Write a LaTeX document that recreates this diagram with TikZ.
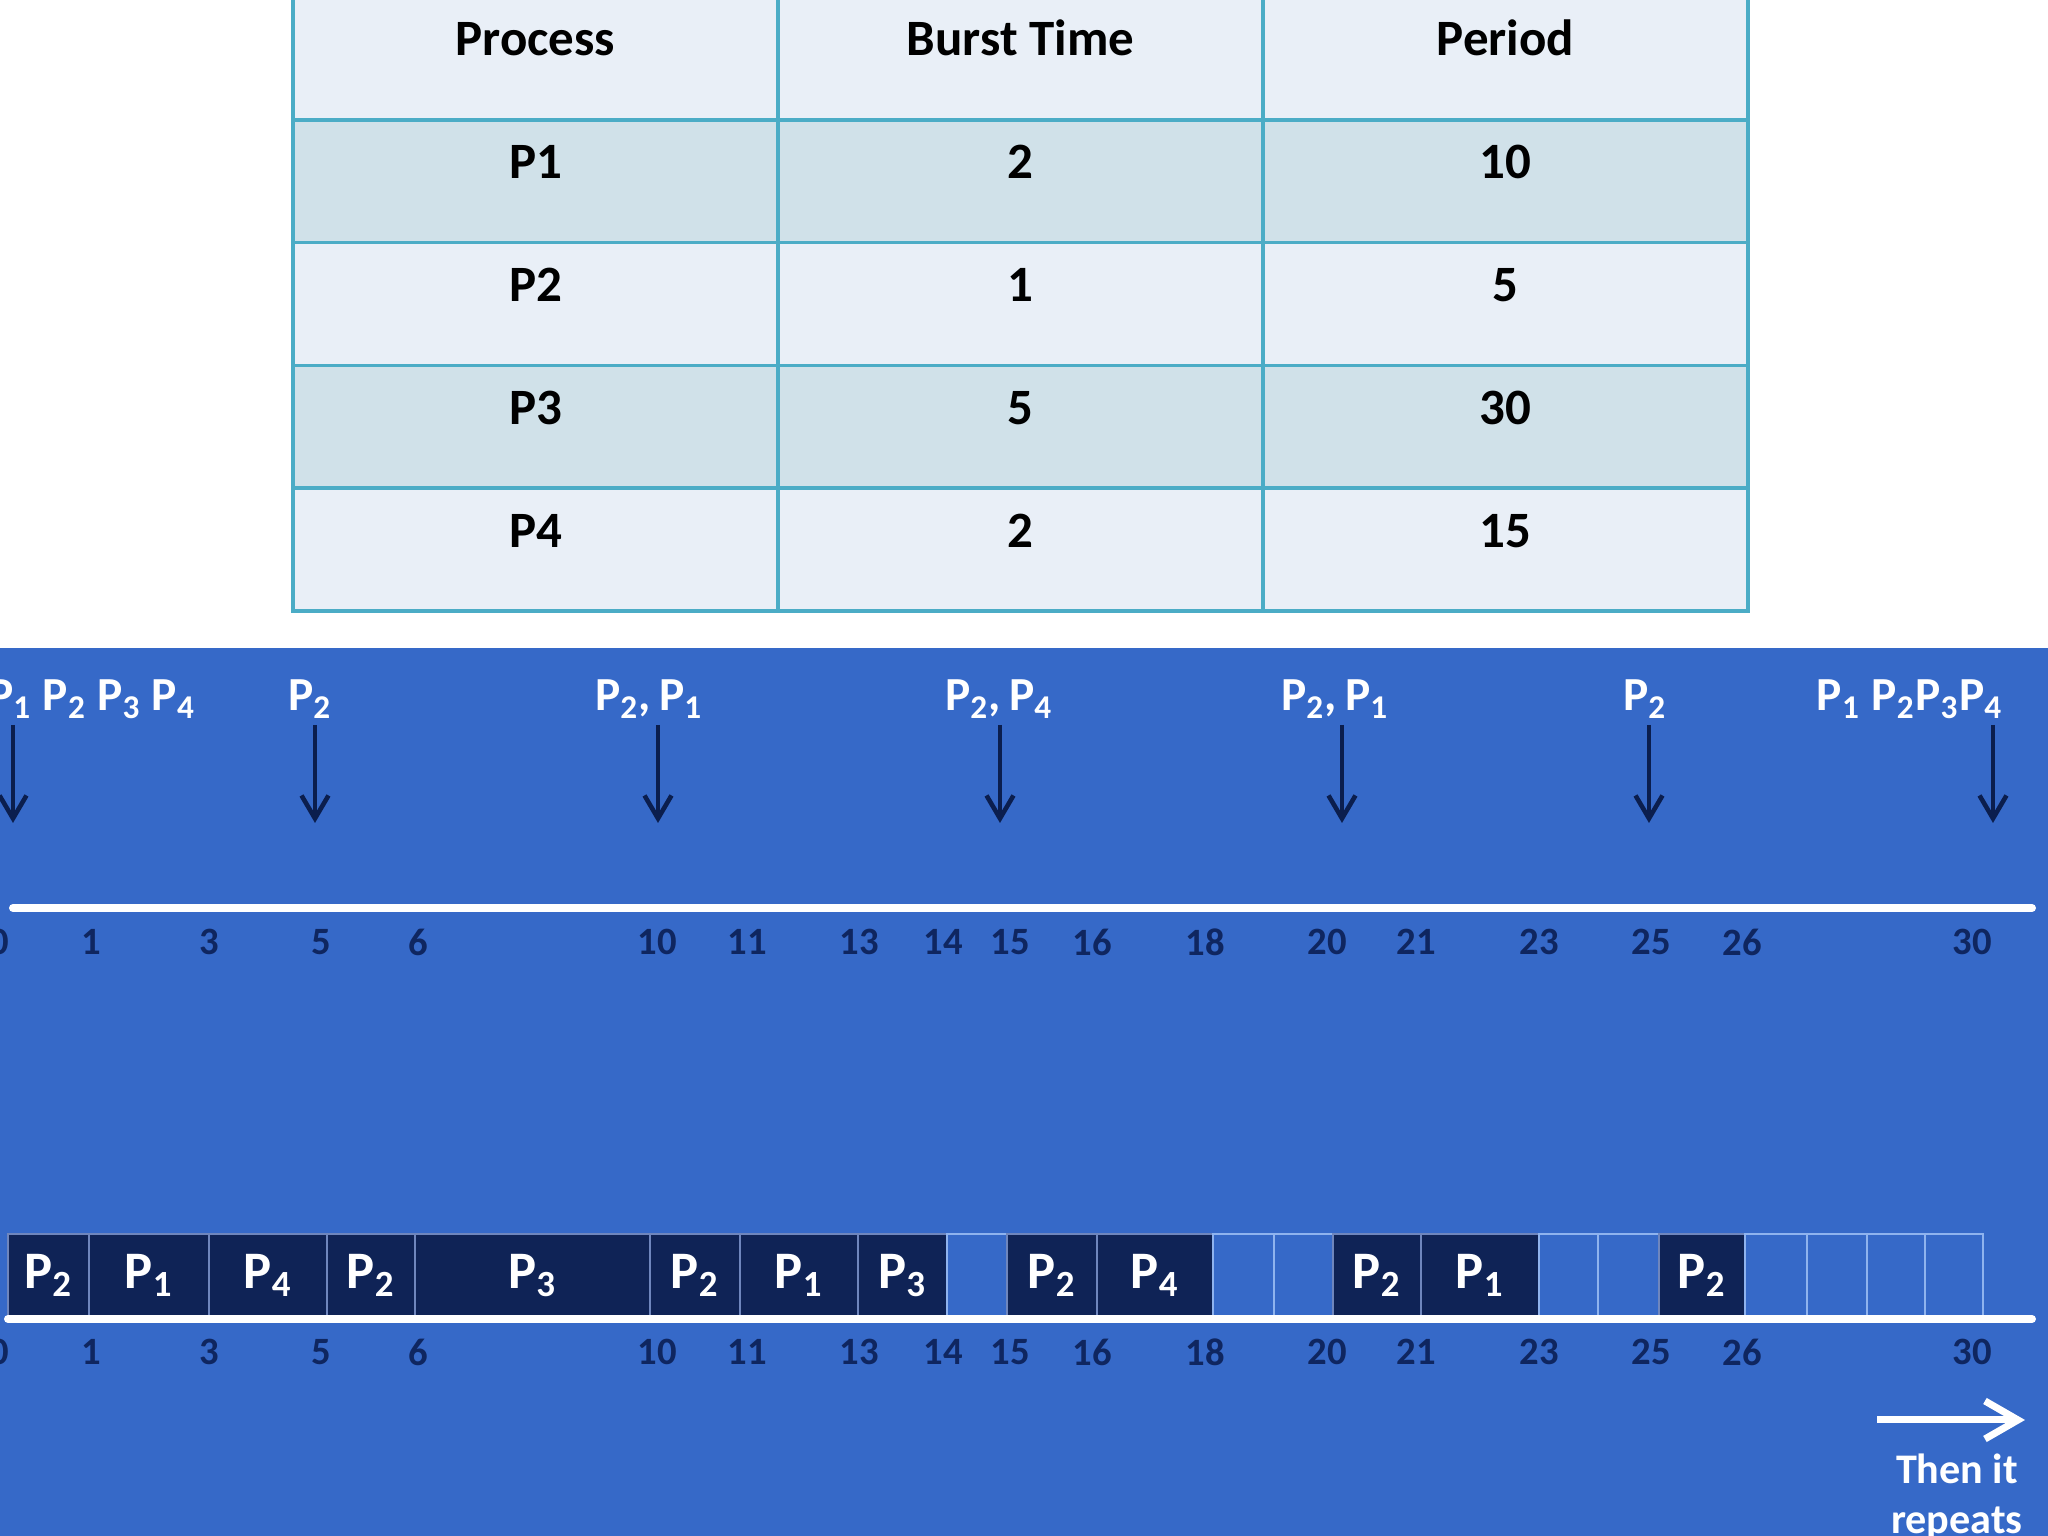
\documentclass[tikz,border=0pt]{standalone}
\usepackage{fontspec}
\setmainfont{Carlito}
\usetikzlibrary{positioning,arrows.meta}

\definecolor{cellline}{HTML}{4BACC6}
\definecolor{celllight}{HTML}{E9EFF7}
\definecolor{celldark}{HTML}{D0E1E9}
\definecolor{panel}{HTML}{3669C8}
\definecolor{navy}{HTML}{0F2356}
\definecolor{ticknavy}{HTML}{0F2660}
\definecolor{arrownavy}{HTML}{0B1E4E}
\definecolor{idleline}{HTML}{8FB3EE}
\definecolor{runline}{HTML}{6F86BD}

\begin{document}
\begin{tikzpicture}

    % Styles
    \tikzstyle{cell} = [rectangle, inner sep=0pt, outer sep=0pt, minimum width=4.85cm, text height=0.59cm, text depth=0.638cm, text centered, draw=cellline, line width=1pt, font=\fontsize{14.5}{17}\selectfont\bfseries]
    \tikzstyle{head} = [cell, fill=celllight]
    \tikzstyle{rowa} = [cell, fill=celldark]
    \tikzstyle{rowb} = [cell, fill=celllight]
    \tikzstyle{run} = [rectangle, inner sep=0pt, outer sep=0pt, minimum height=0.83cm, text centered, draw=runline, line width=0.6pt, fill=navy, text=white, font=\fontsize{15}{18}\selectfont\bfseries]
    \tikzstyle{idle} = [run, draw=idleline, line width=0.8pt, fill=none]
    \tikzstyle{tick} = [text=ticknavy, font=\fontsize{11}{13}\selectfont\bfseries]
    \tikzstyle{arrival} = [text=white, font=\fontsize{13.5}{16}\selectfont\bfseries]
    \tikzstyle{timeline} = [white, line width=0.08cm, line cap=round]
    \tikzstyle{arrow} = [arrownavy, line width=1.3pt, -{Straight Barb[length=2.3mm, width=2.7mm]}]
    \tikzstyle{looparrow} = [white, line width=2pt, -{Straight Barb[length=3.3mm, width=3.8mm]}]

    \useasboundingbox (0,0) rectangle (20.48,15.36);
    \clip (0,0) rectangle (20.48,15.36);

    % Tableau
    \node (proc) [head] at (5.355,14.776) {Process};
    \node (burst) [head, right=0pt of proc] {Burst Time};
    \node (period) [head, right=0pt of burst] {Period};
    \node (p1) [rowa, below=0pt of proc] {P1};
    \node (p1-burst) [rowa, right=0pt of p1] {2};
    \node (p1-period) [rowa, right=0pt of p1-burst] {10};
    \node (p2) [rowb, below=0pt of p1] {P2};
    \node (p2-burst) [rowb, right=0pt of p2] {1};
    \node (p2-period) [rowb, right=0pt of p2-burst] {5};
    \node (p3) [rowa, below=0pt of p2] {P3};
    \node (p3-burst) [rowa, right=0pt of p3] {5};
    \node (p3-period) [rowa, right=0pt of p3-burst] {30};
    \node (p4) [rowb, below=0pt of p3] {P4};
    \node (p4-burst) [rowb, right=0pt of p4] {2};
    \node (p4-period) [rowb, right=0pt of p4-burst] {15};

    % Fond
    \fill [panel] (0,0) rectangle (20.48,8.88);

    % Arrivees
    \node (l1) [arrival] at (0.92,8.37) {P\textsubscript{1} P\textsubscript{2} P\textsubscript{3} P\textsubscript{4}};
    \node (l2) [arrival] at (3.10,8.37) {P\textsubscript{2}};
    \node (l3) [arrival] at (6.49,8.37) {P\textsubscript{2},\,P\textsubscript{1}};
    \node (l4) [arrival] at (9.99,8.37) {P\textsubscript{2},\,P\textsubscript{4}};
    \node (l5) [arrival] at (13.35,8.37) {P\textsubscript{2},\,P\textsubscript{1}};
    \node (l6) [arrival] at (16.45,8.37) {P\textsubscript{2}};
    \node (l7) [arrival] at (19.10,8.37) {P\textsubscript{1} P\textsubscript{2}P\textsubscript{3}P\textsubscript{4}};

    \coordinate (s1) at (0.13,8.11);  \coordinate (e1) at (0.13,7.13);
    \coordinate (s2) at (3.15,8.11);  \coordinate (e2) at (3.15,7.13);
    \coordinate (s3) at (6.58,8.11);  \coordinate (e3) at (6.58,7.13);
    \coordinate (s4) at (10.00,8.11); \coordinate (e4) at (10.00,7.13);
    \coordinate (s5) at (13.42,8.11); \coordinate (e5) at (13.42,7.13);
    \coordinate (s6) at (16.49,8.11); \coordinate (e6) at (16.49,7.13);
    \coordinate (s7) at (19.93,8.11); \coordinate (e7) at (19.93,7.13);

    % Frises
    \coordinate (top-start) at (0.13,6.28);
    \coordinate (top-end) at (20.32,6.28);
    \draw [timeline] (top-start) -- (top-end);

    \node (b1) [run, minimum width=0.81cm] at (0.485,2.605) {P\textsubscript{2}};
    \node (b2) [run, minimum width=1.20cm, right=0pt of b1] {P\textsubscript{1}};
    \node (b3) [run, minimum width=1.18cm, right=0pt of b2] {P\textsubscript{4}};
    \node (b4) [run, minimum width=0.88cm, right=0pt of b3] {P\textsubscript{2}};
    \node (b5) [run, minimum width=2.35cm, right=0pt of b4] {P\textsubscript{3}};
    \node (b6) [run, minimum width=0.90cm, right=0pt of b5] {P\textsubscript{2}};
    \node (b7) [run, minimum width=1.18cm, right=0pt of b6] {P\textsubscript{1}};
    \node (b8) [run, minimum width=0.89cm, right=0pt of b7] {P\textsubscript{3}};
    \node (b9) [idle, minimum width=0.60cm, right=0pt of b8] {};
    \node (b10) [run, minimum width=0.90cm, right=0pt of b9] {P\textsubscript{2}};
    \node (b11) [run, minimum width=1.16cm, right=0pt of b10] {P\textsubscript{4}};
    \node (b12) [idle, minimum width=0.61cm, right=0pt of b11] {};
    \node (b13) [idle, minimum width=0.59cm, right=0pt of b12] {};
    \node (b14) [run, minimum width=0.88cm, right=0pt of b13] {P\textsubscript{2}};
    \node (b15) [run, minimum width=1.18cm, right=0pt of b14] {P\textsubscript{1}};
    \node (b16) [idle, minimum width=0.59cm, right=0pt of b15] {};
    \node (b17) [idle, minimum width=0.61cm, right=0pt of b16] {};
    \node (b18) [run, minimum width=0.86cm, right=0pt of b17] {P\textsubscript{2}};
    \node (b19) [idle, minimum width=0.62cm, right=0pt of b18] {};
    \node (b20) [idle, minimum width=0.60cm, right=0pt of b19] {};
    \node (b21) [idle, minimum width=0.58cm, right=0pt of b20] {};
    \node (b22) [idle, minimum width=0.58cm, right=0pt of b21] {};

    \coordinate (bot-start) at (0.08,2.17);
    \coordinate (bot-end) at (20.32,2.17);
    \draw [timeline] (bot-start) -- (bot-end);

    \foreach \t/\x in {0/-0.01, 1/0.91, 3/2.09, 5/3.21, 6/4.18, 10/6.57, 11/7.47, 13/8.59, 14/9.43, 15/10.10, 16/10.92, 18/12.05, 20/13.27, 21/14.16, 23/15.39, 25/16.51, 26/17.42, 30/19.72} {
        \node (top-\t) [tick] at (\x,5.94) {\t};
        \node (bot-\t) [tick] at (\x,1.84) {\t};
    }

    \coordinate (rep-start) at (18.77,1.16);
    \coordinate (rep-end) at (20.25,1.16);
    \node (then) [text=white, align=center, font=\fontsize{12}{14.2}\selectfont\bfseries] at (19.57,0.39) {Then it\\repeats};

    % Flèches
    \draw [arrow] (s1) -- (e1);
    \draw [arrow] (s2) -- (e2);
    \draw [arrow] (s3) -- (e3);
    \draw [arrow] (s4) -- (e4);
    \draw [arrow] (s5) -- (e5);
    \draw [arrow] (s6) -- (e6);
    \draw [arrow] (s7) -- (e7);
    \draw [looparrow] (rep-start) -- (rep-end);

\end{tikzpicture}
\end{document}
